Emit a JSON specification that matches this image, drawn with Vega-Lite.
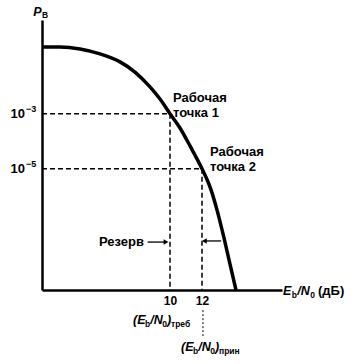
{
  "$schema": "https://vega.github.io/schema/vega-lite/v6.json",
  "autosize": "none",
  "width": 240,
  "height": 270,
  "padding": {"left": 42, "top": 20, "right": 74, "bottom": 74},
  "background": "white",
  "config": {"view": {"stroke": null}, "font": "Liberation Sans"},
  "datasets": {
    "curve": [
      {"x": 2.0, "y": -0.58}, {"x": 3.125, "y": -0.58}, {"x": 4.375, "y": -0.65},
      {"x": 5.625, "y": -0.83}, {"x": 6.875, "y": -1.12}, {"x": 7.81, "y": -1.49},
      {"x": 8.75, "y": -2.03}, {"x": 9.375, "y": -2.47}, {"x": 10.0, "y": -3.0},
      {"x": 10.625, "y": -3.52}, {"x": 11.25, "y": -4.17}, {"x": 12.0, "y": -5.0},
      {"x": 12.5, "y": -5.66}, {"x": 12.94, "y": -6.5}, {"x": 13.375, "y": -7.51},
      {"x": 13.75, "y": -8.46}, {"x": 14.125, "y": -9.4}
    ],
    "guides": [
      {"x": 2, "x2": 10, "y": -3, "y2": -3},
      {"x": 2, "x2": 12, "y": -5, "y2": -5},
      {"x": 10, "x2": 10, "y": -3, "y2": -9.4},
      {"x": 12, "x2": 12, "y": -5, "y2": -9.4}
    ],
    "dotted": [{"x": 12.06, "x2": 12.06, "y": -10.13, "y2": -11.11}],
    "arrows": [
      {"x": 8.6, "x2": 9.8, "y": -7.66},
      {"x": 13.2, "x2": 12.1, "y": -7.62}
    ],
    "headsR": [{"x": 9.75, "y": -7.66}],
    "headsL": [{"x": 12.15, "y": -7.62}],
    "plain": [
      {"x": 10.1875, "y": -2.43, "text": "Рабочая"},
      {"x": 10.1875, "y": -2.976, "text": "точка 1"},
      {"x": 12.5, "y": -4.39, "text": "Рабочая"},
      {"x": 12.5, "y": -4.94, "text": "точка 2"},
      {"x": 19.25, "y": -9.437, "text": "(дБ)"}
    ],
    "right": [
      {"x": 8.375, "y": -7.66, "text": "Резерв"},
      {"x": 0.9375, "y": -3.01, "text": "10"},
      {"x": 0.9375, "y": -5.01, "text": "10"}
    ],
    "exps": [
      {"x": 1.0, "y": -2.83, "text": "−3"},
      {"x": 1.0, "y": -4.83, "text": "−5"}
    ],
    "italic": [
      {"x": 1.45, "y": 0.69, "text": "P"},
      {"x": 7.6875, "y": -10.49, "text": "(E"},
      {"x": 8.7625, "y": -10.49, "text": "/N"},
      {"x": 9.806, "y": -10.49, "text": ")"},
      {"x": 10.6875, "y": -11.47, "text": "(E"},
      {"x": 11.7625, "y": -11.47, "text": "/N"},
      {"x": 12.806, "y": -11.47, "text": ")"},
      {"x": 17.06, "y": -9.437, "text": "E"},
      {"x": 17.95, "y": -9.437, "text": "/N"}
    ],
    "subs": [
      {"x": 2.0, "y": 0.58, "text": "B"},
      {"x": 8.4375, "y": -10.63, "text": "b"},
      {"x": 9.5125, "y": -10.63, "text": "0"},
      {"x": 10.0625, "y": -10.63, "text": "треб"},
      {"x": 11.4375, "y": -11.61, "text": "b"},
      {"x": 12.5125, "y": -11.61, "text": "0"},
      {"x": 13.0625, "y": -11.61, "text": "прин"},
      {"x": 17.61, "y": -9.58, "text": "b"},
      {"x": 18.76, "y": -9.58, "text": "0"}
    ]
  },
  "layer": [
    {
      "data": {"name": "curve"},
      "mark": {"type": "line", "color": "black", "strokeWidth": 3.5, "interpolate": "monotone"},
      "encoding": {
        "x": {"field": "x", "type": "quantitative",
          "scale": {"domain": [2, 17], "nice": false, "zero": false},
          "axis": {"values": [10, 12], "title": null, "ticks": false, "grid": false,
            "domainColor": "black", "domainWidth": 2.5, "labelFontSize": 12,
            "labelFontWeight": "bold", "labelColor": "black", "labelPadding": 5}},
        "y": {"field": "y", "type": "quantitative",
          "scale": {"domain": [-9.4, 0.4], "nice": false, "zero": false},
          "axis": {"values": [-3, -5], "title": null, "ticks": false, "grid": false,
            "domainColor": "black", "domainWidth": 2.5, "labels": false}}
      }
    },
    {
      "data": {"name": "guides"},
      "mark": {"type": "rule", "color": "black", "strokeWidth": 1.5, "strokeDash": [5, 3]},
      "encoding": {
        "x": {"field": "x", "type": "quantitative"},
        "x2": {"field": "x2"},
        "y": {"field": "y", "type": "quantitative"},
        "y2": {"field": "y2"}
      }
    },
    {
      "data": {"name": "dotted"},
      "mark": {"type": "rule", "color": "black", "strokeWidth": 1, "strokeDash": [2, 2]},
      "encoding": {
        "x": {"field": "x", "type": "quantitative"},
        "x2": {"field": "x2"},
        "y": {"field": "y", "type": "quantitative"},
        "y2": {"field": "y2"}
      }
    },
    {
      "data": {"name": "arrows"},
      "mark": {"type": "rule", "color": "black", "strokeWidth": 1.3},
      "encoding": {
        "x": {"field": "x", "type": "quantitative"},
        "x2": {"field": "x2"},
        "y": {"field": "y", "type": "quantitative"}
      }
    },
    {
      "data": {"name": "headsR"},
      "mark": {"type": "point", "shape": "triangle-right", "filled": true, "color": "black", "size": 30, "opacity": 1},
      "encoding": {
        "x": {"field": "x", "type": "quantitative"},
        "y": {"field": "y", "type": "quantitative"}
      }
    },
    {
      "data": {"name": "headsL"},
      "mark": {"type": "point", "shape": "triangle-left", "filled": true, "color": "black", "size": 30, "opacity": 1},
      "encoding": {
        "x": {"field": "x", "type": "quantitative"},
        "y": {"field": "y", "type": "quantitative"}
      }
    },
    {
      "data": {"name": "plain"},
      "mark": {"type": "text", "align": "left", "baseline": "middle", "fontSize": 13, "fontWeight": "bold", "color": "black"},
      "encoding": {
        "x": {"field": "x", "type": "quantitative"},
        "y": {"field": "y", "type": "quantitative"},
        "text": {"field": "text"}
      }
    },
    {
      "data": {"name": "right"},
      "mark": {"type": "text", "align": "right", "baseline": "middle", "fontSize": 13, "fontWeight": "bold", "color": "black"},
      "encoding": {
        "x": {"field": "x", "type": "quantitative"},
        "y": {"field": "y", "type": "quantitative"},
        "text": {"field": "text"}
      }
    },
    {
      "data": {"name": "exps"},
      "mark": {"type": "text", "align": "left", "baseline": "middle", "fontSize": 9, "fontWeight": "bold", "color": "black"},
      "encoding": {
        "x": {"field": "x", "type": "quantitative"},
        "y": {"field": "y", "type": "quantitative"},
        "text": {"field": "text"}
      }
    },
    {
      "data": {"name": "italic"},
      "mark": {"type": "text", "align": "left", "baseline": "middle", "fontSize": 12.5, "fontWeight": "bold", "fontStyle": "italic", "color": "black"},
      "encoding": {
        "x": {"field": "x", "type": "quantitative"},
        "y": {"field": "y", "type": "quantitative"},
        "text": {"field": "text"}
      }
    },
    {
      "data": {"name": "subs"},
      "mark": {"type": "text", "align": "left", "baseline": "middle", "fontSize": 8.5, "fontWeight": "bold", "color": "black"},
      "encoding": {
        "x": {"field": "x", "type": "quantitative"},
        "y": {"field": "y", "type": "quantitative"},
        "text": {"field": "text"}
      }
    }
  ]
}
